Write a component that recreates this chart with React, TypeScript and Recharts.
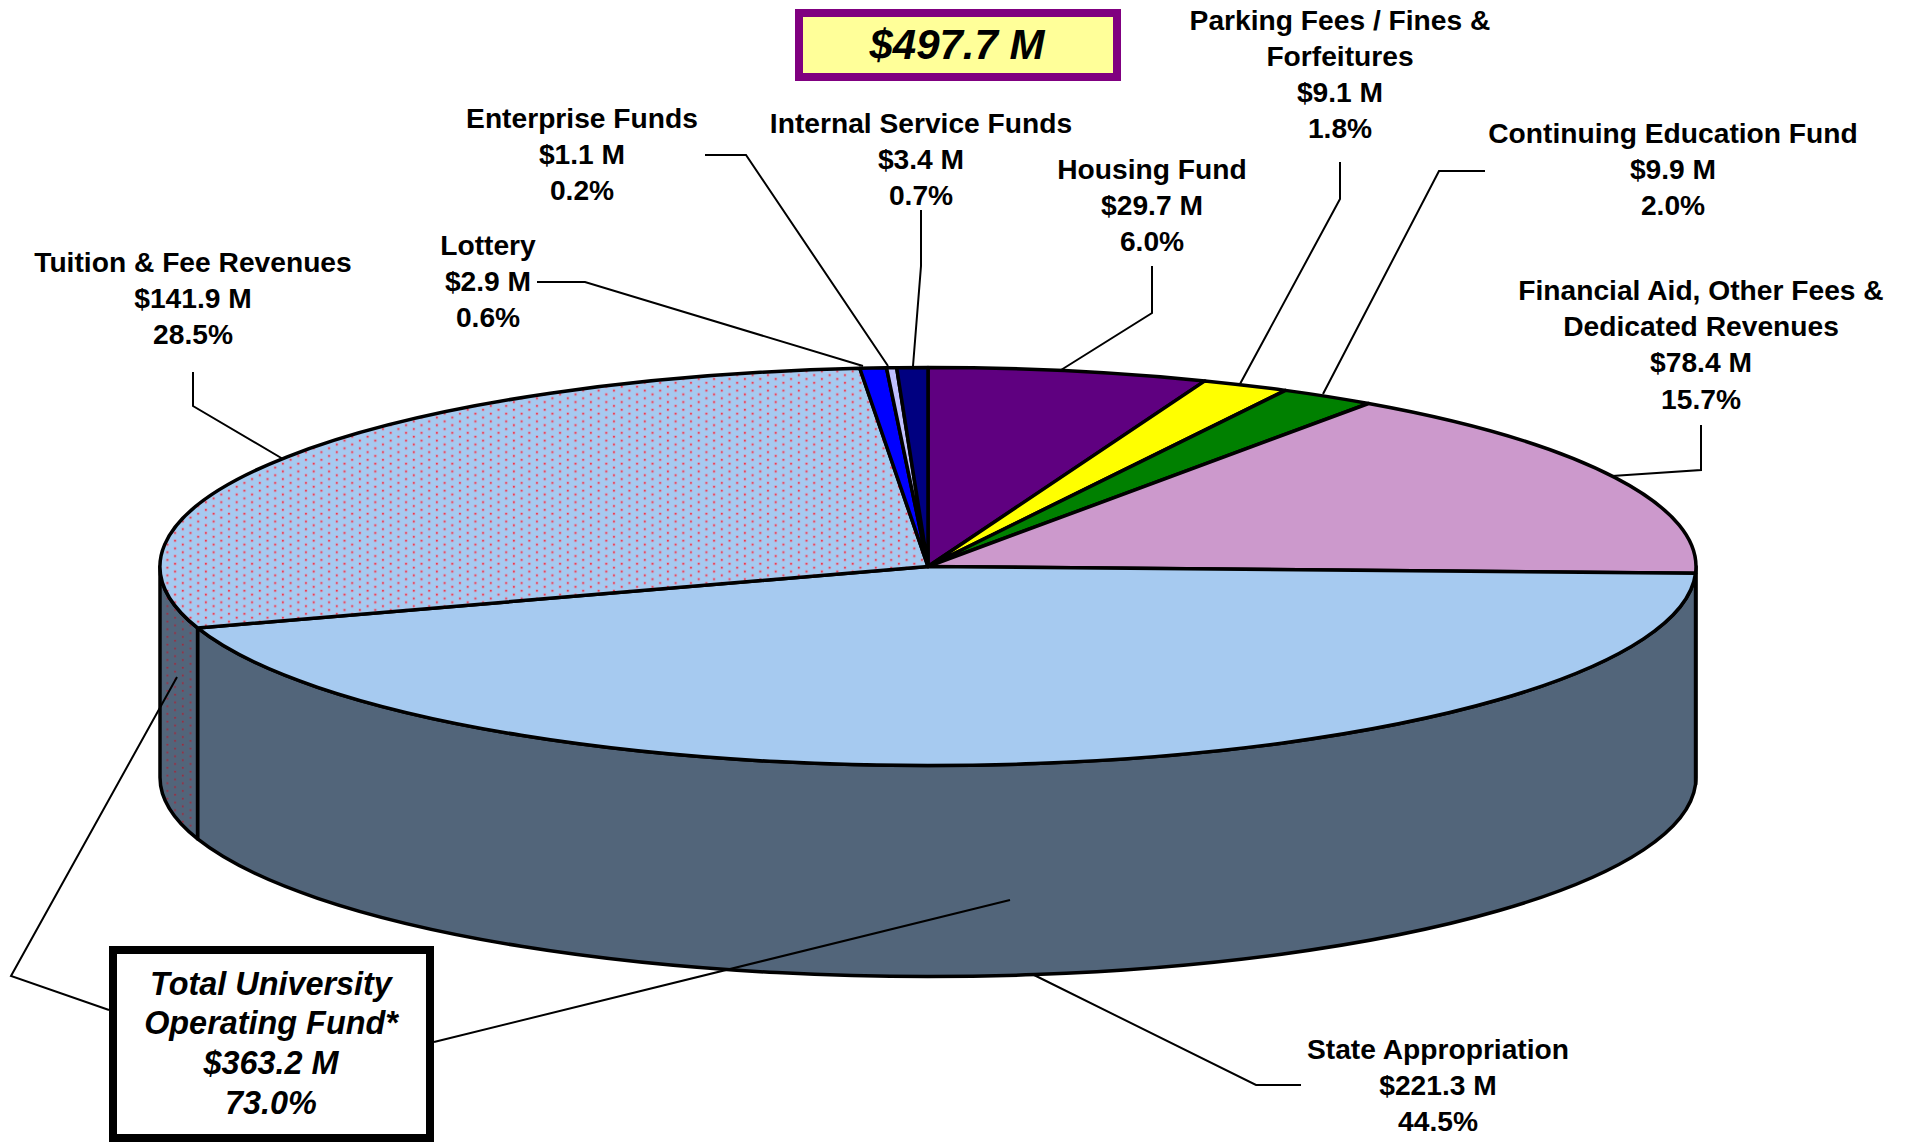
import { PieChart, Pie } from "recharts";

// Values, clockwise from twelve o'clock
const categories = [
  ["Housing Fund"],
  ["Parking Fees / Fines &", "Forfeitures"],
  ["Continuing Education Fund"],
  ["Financial Aid, Other Fees &", "Dedicated Revenues"],
  ["State Appropriation"],
  ["Tuition & Fee Revenues"],
  ["Lottery"],
  ["Enterprise Funds"],
  ["Internal Service Funds"],
];
const amounts = [29.7, 9.1, 9.9, 78.4, 221.3, 141.9, 2.9, 1.1, 3.4];
const shares = ["6.0", "1.8", "2.0", "15.7", "44.5", "28.5", "0.6", "0.2", "0.7"];
const totalLabel = "$497.7 M";
const operatingLines = ["Total University", "Operating Fund*", "$363.2 M", "73.0%"];

const topFills = ["#5f0080", "#ffff00", "#008000", "#cc99cc", "#a6caf0", "url(#dotsTop)", "#0000ff", "#c0c0ff", "#000080"];
const wallFills = ["#333", "#333", "#333", "#52657a", "#52657a", "url(#dotsWall)", "#333", "#333", "#333"];

const WIDTH = 1912;
const HEIGHT = 1144;
const CX = 928;
const CY = 566.5;
const RX = 768;
const RY = 199;
const DEPTH = 211;
const LINE_H = 36.2;
const FONT = "'Liberation Sans', Arial, sans-serif";

// label anchor (first line centre) and leader line for each slice
const labelPos = [
  { x: 1152, y: 169, leader: "1152,266 1152,313 1061,370" },
  { x: 1340, y: 19.5, leader: "1340,162 1340,199 1240,384" },
  { x: 1673, y: 133, leader: "1485,171 1439,171 1323,394" },
  { x: 1701, y: 290, leader: "1701,425 1701,470 1612,476" },
  { x: 1438, y: 1049, leader: "1034,975 1256,1085 1301,1085" },
  { x: 193, y: 262, leader: "193,372 193,406 283,459" },
  { x: 488, y: 244.5, leader: "537,282 585,282 863,366" },
  { x: 582, y: 118, leader: "705,155 746,155 888,366" },
  { x: 921, y: 122.5, leader: "921,210 921,266 913,366" },
];

const tableData = amounts.map((value, i) => ({ name: categories[i].join(" "), value, share: shares[i] }));

// the original's perspective squeezes slices a little near the far edge
const squeeze = (t: number) => {
  const off = t > 180 ? t - 360 : t;
  if (Math.abs(off) >= 45) return t;
  return t - (off < 0 ? 0.7 : 0.35) * Math.sin((4 * off * Math.PI) / 180);
};

// t = degrees clockwise from the top of the ellipse
const pointAt = (t: number, dy = 0) => {
  const rad = (squeeze(t) * Math.PI) / 180;
  return { x: CX + RX * Math.sin(rad), y: CY - RY * Math.cos(rad) + dy };
};

const TopSlice = (props: any) => {
  const t1 = 90 - props.startAngle;
  const t2 = 90 - props.endAngle;
  const a = pointAt(t1);
  const b = pointAt(t2);
  const large = t2 - t1 > 180 ? 1 : 0;
  return (
    <path
      d={`M${CX},${CY} L${a.x},${a.y} A${RX},${RY} 0 ${large} 1 ${b.x},${b.y} Z`}
      fill={topFills[props.index]}
      stroke="#000"
      strokeWidth={3.5}
      strokeLinejoin="round"
    />
  );
};

const WallSlice = (props: any) => {
  const t1 = Math.max(90 - props.startAngle, 90);
  const t2 = Math.min(90 - props.endAngle, 270);
  if (t2 <= t1) return <g />;
  const a = pointAt(t1);
  const b = pointAt(t2);
  const c = pointAt(t2, DEPTH);
  const d = pointAt(t1, DEPTH);
  return (
    <path
      d={`M${a.x},${a.y} A${RX},${RY} 0 0 1 ${b.x},${b.y} L${c.x},${c.y} A${RX},${RY} 0 0 0 ${d.x},${d.y} Z`}
      fill={wallFills[props.index]}
      stroke="#000"
      strokeWidth={3.5}
      strokeLinejoin="round"
    />
  );
};

const SliceLabel = (props: any) => {
  const i = props.index;
  const pos = labelPos[i];
  const lines = [...categories[i], `$${amounts[i].toFixed(1)} M`, `${shares[i]}%`];
  return (
    <g>
      <polyline points={pos.leader} fill="none" stroke="#000" strokeWidth={2} />
      <text textAnchor="middle" fontFamily={FONT} fontWeight="bold" fontSize={28.2} fill="#000">
        {lines.map((line, k) => (
          <tspan key={k} x={pos.x} y={pos.y + k * LINE_H} dominantBaseline="central">
            {line}
          </tspan>
        ))}
      </text>
    </g>
  );
};

const DotPattern = ({ id, base, dot, halo }: { id: string; base: string; dot: string; halo: string }) => (
  <pattern id={id} width={15.4} height={7.7} patternUnits="userSpaceOnUse">
    <rect width={15.4} height={7.7} fill={base} />
    <circle cx={5.7} cy={1.7} r={1.8} fill={halo} />
    <circle cx={13.4} cy={5.55} r={1.8} fill={halo} />
    <circle cx={5.7} cy={1.7} r={0.9} fill={dot} />
    <circle cx={13.4} cy={5.55} r={0.9} fill={dot} />
  </pattern>
);

export default function App() {
  return (
    <div style={{ position: "absolute", left: 0, top: 0, width: WIDTH, height: HEIGHT, background: "#fff" }}>
      <PieChart width={WIDTH} height={HEIGHT} margin={{ top: 0, right: 0, bottom: 0, left: 0 }}>
        <defs>
          <DotPattern id="dotsTop" base="#a6caf0" dot="#f02838" halo="#c4aed2" />
          <DotPattern id="dotsWall" base="#52657a" dot="#a02838" halo="#5a6078" />
        </defs>
        <Pie
          data={tableData}
          dataKey="value"
          cx={CX}
          cy={CY}
          outerRadius={RX}
          startAngle={90}
          endAngle={-270}
          shape={WallSlice}
          inactiveShape={WallSlice}
          activeShape={WallSlice}
          isAnimationActive={false}
          legendType="none"
        />
        <Pie
          data={tableData}
          dataKey="value"
          cx={CX}
          cy={CY}
          outerRadius={RX}
          startAngle={90}
          endAngle={-270}
          shape={TopSlice}
          inactiveShape={TopSlice}
          activeShape={TopSlice}
          label={SliceLabel}
          labelLine={false}
          isAnimationActive={false}
          legendType="none"
        />
      </PieChart>

      {/* callouts sit on top of the pie */}
      <svg width={WIDTH} height={HEIGHT} style={{ position: "absolute", left: 0, top: 0, pointerEvents: "none" }}>
        <polyline points="177,677 11,976 109,1010" fill="none" stroke="#000" strokeWidth={2} />
        <polyline points="1010,900 434,1042" fill="none" stroke="#000" strokeWidth={2} />
        <rect x={799} y={13} width={318} height={64} fill="#ffff99" stroke="#800080" strokeWidth={8} />
        <text x={957} y={44} textAnchor="middle" dominantBaseline="central" fontFamily={FONT} fontWeight="bold" fontStyle="italic" fontSize={42}>
          {totalLabel}
        </text>
        <rect x={113} y={950} width={317} height={188} fill="#fff" stroke="#000" strokeWidth={8} />
        <text textAnchor="middle" fontFamily={FONT} fontWeight="bold" fontStyle="italic" fontSize={32.4}>
          {operatingLines.map((line, k) => (
            <tspan key={k} x={271} y={983.5 + k * 39.9} dominantBaseline="central">
              {line}
            </tspan>
          ))}
        </text>
      </svg>
    </div>
  );
}
